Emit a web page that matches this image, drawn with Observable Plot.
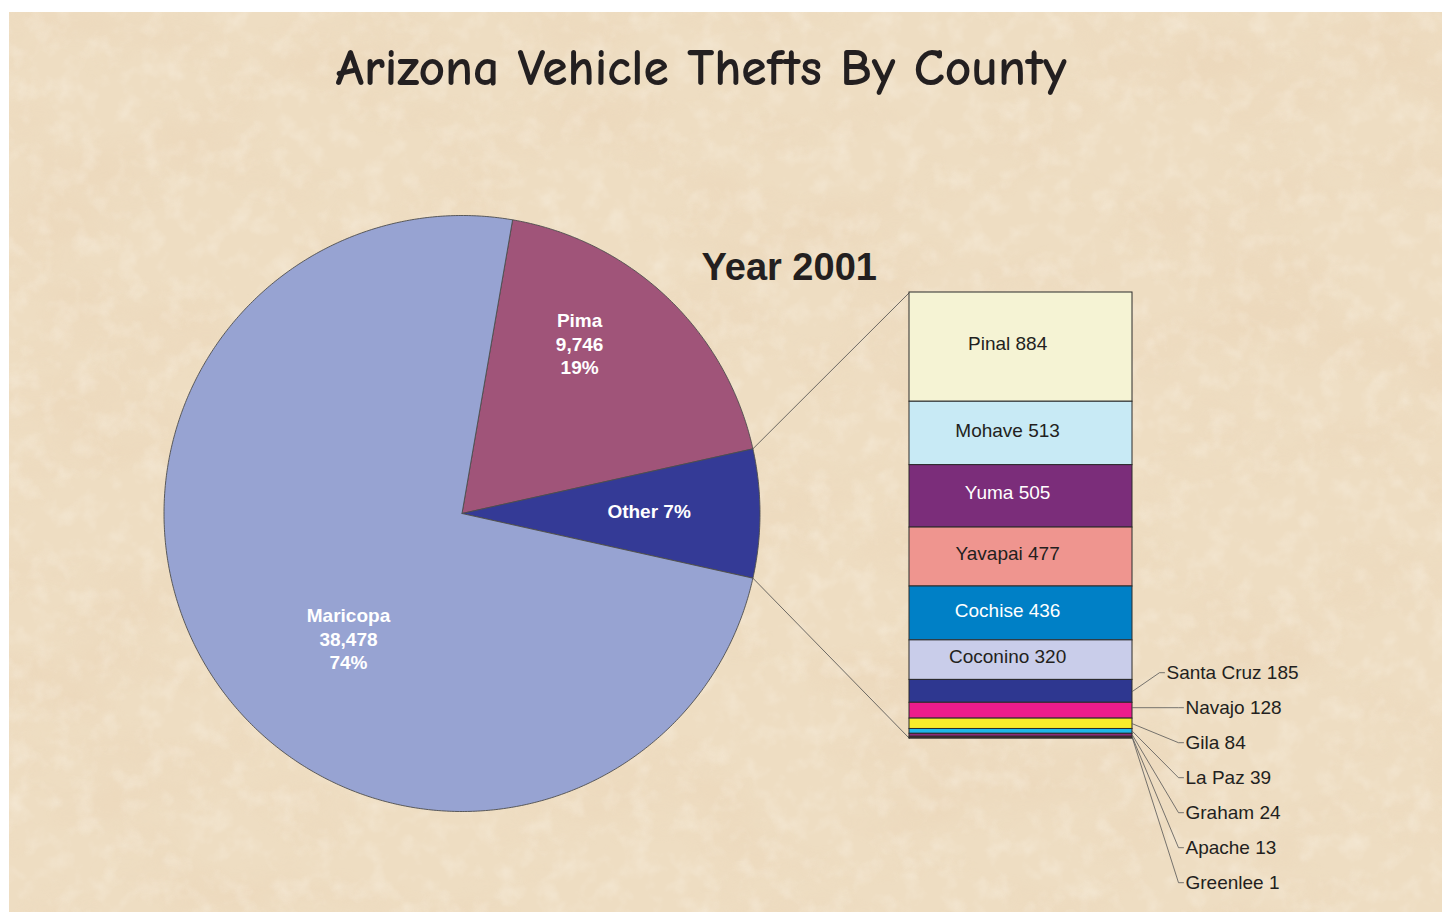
<!DOCTYPE html>
<html>
<head>
<meta charset="utf-8">
<script src="https://cdn.jsdelivr.net/npm/d3@7"></script>
<script src="https://cdn.jsdelivr.net/npm/@observablehq/plot@0.6"></script>
<style>
html, body { margin: 0; padding: 0; background: #ffffff; width: 1442px; height: 914px; overflow: hidden; }
#bg { position: absolute; left: 9px; top: 12px; width: 1433px; height: 900px; background-color: #EEDDC2; }
#chart { position: absolute; left: 0; top: 0; }
</style>
</head>
<body>
<div id="bg"></div>
<div id="chart"></div>
<script>
// ---------------- data ----------------
const chartTitle = "Arizona Vehicle Thefts By County";
const chartSubtitle = "Year 2001";

const mainNames = ["Maricopa", "Pima"];
const mainValues = [38478, 9746];
const mainColors = ["#97A3D2", "#A05479"];
const otherName = "Other";
const otherColor = "#343A96";

const countyNames = ["Pinal", "Mohave", "Yuma", "Yavapai", "Cochise", "Coconino",
  "Santa Cruz", "Navajo", "Gila", "La Paz", "Graham", "Apache", "Greenlee"];
const countyValues = [884, 513, 505, 477, 436, 320, 185, 128, 84, 39, 24, 13, 1];
const countyColors = ["#F5F3D4", "#C8EAF5", "#7B2D7A", "#EF958F", "#0080C6", "#C9CDEA",
  "#2E3790", "#EC1C8C", "#F7EC2A", "#1DB6E9", "#8B2C78", "#7A1F2A", "#1E6F6F"];
const insideLabelCount = 6; // first six counties labelled inside the bar

// ---------------- layout ----------------
const W = 1442, H = 914;
const cx = 461.5, cy = 513, R = 298;
const barX0 = 909, barX1 = 1132, barTop = 292, barBottom = 738;
const ink = "#231F20";
const sansFont = "'Liberation Sans', Arial, Helvetica, sans-serif";

// background texture (decoration only)
const texture = `<svg xmlns='http://www.w3.org/2000/svg' width='1433' height='900'>
<filter id='a' x='0' y='0' width='100%' height='100%'><feTurbulence type='fractalNoise' baseFrequency='0.006 0.011' numOctaves='5' seed='7'/>
<feColorMatrix type='matrix' values='0 0 0 0 0.82  0 0 0 0 0.64  0 0 0 0 0.45  1.7 0 0 0 -0.78'/></filter>
<filter id='b' x='0' y='0' width='100%' height='100%'><feTurbulence type='fractalNoise' baseFrequency='0.045' numOctaves='3' seed='2'/>
<feColorMatrix type='matrix' values='0 0 0 0 1  0 0 0 0 0.98  0 0 0 0 0.93  0 1.9 0 0 -0.88'/></filter>
<rect width='100%' height='100%' fill='#EEDDC2'/>
<rect width='100%' height='100%' filter='url(#a)' opacity='0.55'/>
<rect width='100%' height='100%' filter='url(#b)' opacity='0.3'/>
</svg>`;
document.getElementById("bg").style.backgroundImage =
  'url("data:image/svg+xml,' + encodeURIComponent(texture) + '")';

// ---------------- derived geometry ----------------
const otherValue = d3.sum(countyValues);
const total = d3.sum(mainValues) + otherValue;
const deg = v => 360 * v / total;

const otherSpan = deg(otherValue);
const otherStart = 90 - otherSpan / 2, otherEnd = 90 + otherSpan / 2;
const pimaStart = otherStart - deg(mainValues[1]);

const slices = [
  {name: mainNames[1], value: mainValues[1], color: mainColors[1], a0: pimaStart, a1: otherStart},
  {name: otherName, value: otherValue, color: otherColor, a0: otherStart, a1: otherEnd},
  {name: mainNames[0], value: mainValues[0], color: mainColors[0], a0: otherEnd, a1: pimaStart + 360}
];

const polar = (a, r) => {
  const t = a * Math.PI / 180;
  return [cx + r * Math.sin(t), cy - r * Math.cos(t)];
};

const slicePts = [];
for (const s of slices) {
  const [x0, y0] = polar(0, 0);
  slicePts.push({name: s.name, color: s.color, x: x0, y: y0});
  const n = Math.max(2, Math.ceil((s.a1 - s.a0) / 0.5));
  for (let i = 0; i <= n; i++) {
    const [x, y] = polar(s.a0 + (s.a1 - s.a0) * i / n, R);
    slicePts.push({name: s.name, color: s.color, x, y});
  }
  slicePts.push({name: s.name, color: s.color, x: x0, y: y0});
}

// pie labels (angle / radius fraction placement)
const pieLabelPlace = {Pima: [34.6, 0.695], Other: [89.0, 0.628], Maricopa: [222.3, 0.566]};
const fmt = d3.format(",");
const pieLabels = slices.map(s => {
  const [a, f] = pieLabelPlace[s.name];
  const [x, y] = polar(a, R * f);
  const pct = Math.round(100 * s.value / total) + "%";
  const text = s.name === otherName ? `${s.name} ${pct}` : `${s.name}\n${fmt(s.value)}\n${pct}`;
  return {x, y, text};
});

// bar segments
const k = (barBottom - barTop) / otherValue;
let acc = 0;
const segs = countyNames.map((name, i) => {
  const y1 = barTop + acc * k;
  acc += countyValues[i];
  const y2 = barTop + acc * k;
  return {name, value: countyValues[i], color: countyColors[i], y1, y2, mid: (y1 + y2) / 2, i};
});
const inside = segs.slice(0, insideLabelCount);
const outside = segs.slice(insideLabelCount);

// outside label positions
const outStepY = 35;
const outFirstY = outside[1].mid - outStepY - 3;
outside.forEach((d, j) => {
  d.ly = outFirstY + j * outStepY;
  d.lx = j === 0 ? barX1 + 34 : barX1 + 53;
});
const leaders = [];
outside.forEach((d, j) => {
  leaders.push({name: d.name, x: barX1, y: j === 1 ? d.ly : d.mid});
  leaders.push({name: d.name, x: d.lx - 7, y: d.ly});
  leaders.push({name: d.name, x: d.lx - 2, y: d.ly});
});

// connectors from pie "Other" slice to the bar
const [pxA, pyA] = polar(otherStart, R);
const [pxB, pyB] = polar(otherEnd, R);
const connectors = [
  {id: "top", x: pxA, y: pyA}, {id: "top", x: barX0, y: barTop},
  {id: "bot", x: pxB, y: pyB}, {id: "bot", x: barX0, y: barBottom}
];

const textOn = c => d3.hsl(c).l < 0.5 ? "#ffffff" : ink;

// ---------------- plot ----------------
const chart = Plot.plot({
  width: W,
  height: H,
  margin: 0,
  x: {domain: [0, W], range: [0, W], axis: null},
  y: {domain: [0, H], range: [0, H], axis: null},
  style: {background: "transparent", fontFamily: sansFont, overflow: "visible"},
  marks: [
    Plot.text([chartTitle], {
      x: () => 700.5, y: () => 68, text: d => d, fontSize: 52, fontWeight: "bold",
      fontFamily: "'Comic Sans MS', 'Comic Neue', Lato, sans-serif",
      fill: ink, lineAnchor: "middle", className: "chart-title"
    }),
    Plot.text([chartSubtitle], {
      x: () => 701, y: () => 267, text: d => d, fontSize: 38, fontWeight: "bold",
      textAnchor: "start", fill: ink, lineAnchor: "middle"
    }),
    Plot.line(connectors, {x: "x", y: "y", z: "id", stroke: "#4a4a4a", strokeWidth: 0.8}),
    Plot.line(slicePts, {x: "x", y: "y", z: "name", fill: "color", stroke: "#4d4d4d", strokeWidth: 0.9, strokeLinejoin: "round"}),
    Plot.text(pieLabels, {
      x: "x", y: "y", text: "text", fill: "#ffffff", fontWeight: "bold",
      fontSize: 19, lineHeight: 1.24, lineAnchor: "middle"
    }),
    Plot.rect(segs, {
      x1: () => barX0, x2: () => barX1, y1: "y1", y2: "y2",
      fill: "color", stroke: "#2b2b2b", strokeWidth: 1
    }),
    Plot.text(inside, {
      x: () => barX0 + (barX1 - barX0) * 0.44, y: d => d.mid - 3,
      text: d => `${d.name} ${d.value}`, fill: d => textOn(d.color),
      fontSize: 19, lineAnchor: "middle"
    }),
    Plot.line(leaders, {x: "x", y: "y", z: "name", stroke: "#555555", strokeWidth: 0.8}),
    Plot.text(outside, {
      x: "lx", y: "ly", text: d => `${d.name} ${d.value}`,
      fill: ink, fontSize: 19, textAnchor: "start", lineAnchor: "middle"
    })
  ]
});

document.getElementById("chart").appendChild(chart);
d3.select(chart).selectAll(".chart-title text")
  .attr("textLength", 731)
  .attr("lengthAdjust", "spacingAndGlyphs");
</script>
</body>
</html>
